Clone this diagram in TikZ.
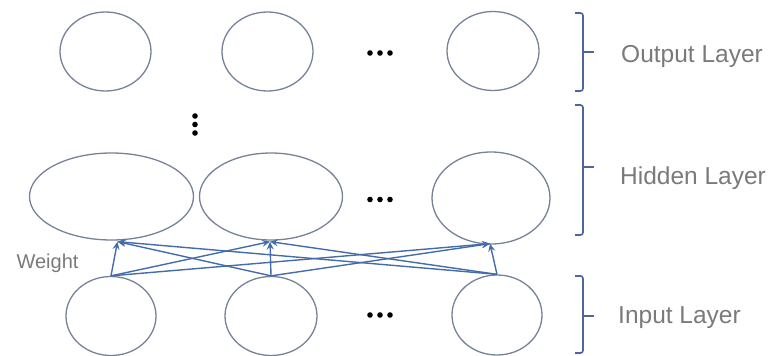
\documentclass[tikz,border=0pt]{standalone}
\usepackage{fontspec}
\setmainfont{Liberation Sans}
\usetikzlibrary{shapes.geometric,arrows.meta,calc}
\definecolor{ringcol}{RGB}{118,130,152}
\definecolor{wirecol}{RGB}{68,108,170}
\definecolor{bracecol}{RGB}{78,102,158}
\definecolor{labelcol}{RGB}{122,122,122}
\tikzset{
  neuron/.style={ellipse,draw=ringcol,line width=1.3pt,inner sep=0pt},
  wire/.style={draw=wirecol,line width=1.4pt,-{Stealth[length=8pt,width=7pt,inset=3pt]}},
  brace/.style={draw=bracecol,line width=1.6pt,rounded corners=2.5pt},
  layername/.style={anchor=base west,text=labelcol,font=\fontsize{24.5}{28}\selectfont,inner sep=0pt},
  dot/.style={fill=black}
}
\begin{document}
\begin{tikzpicture}[x=1pt,y=-1pt]
\useasboundingbox (0,0) rectangle (771,356);

% output layer
\node[neuron,minimum width=91pt,minimum height=79pt] (o1) at (105.5,51.5) {};
\node[neuron,minimum width=91pt,minimum height=79pt] (o2) at (267.5,51.5) {};
\node[neuron,minimum width=92pt,minimum height=79pt] (o3) at (493,51) {};

% hidden layer
\node[neuron,minimum width=164pt,minimum height=87pt] (h1) at (111.5,196.5) {};
\node[neuron,minimum width=143pt,minimum height=87pt] (h2) at (271,196.5) {};
\node[neuron,minimum width=118pt,minimum height=92pt] (h3) at (491,198) {};

% input layer
\node[neuron,minimum width=90pt,minimum height=79pt] (i1) at (111,316) {};
\node[neuron,minimum width=92pt,minimum height=79pt] (i2) at (271,316) {};
\node[neuron,minimum width=90pt,minimum height=80pt] (i3) at (497,315) {};

% arrow targets on the hidden units
\coordinate (t1) at ($(h1.south)+(6,1)$);
\coordinate (t2) at ($(h2.south)+(-1,1)$);
\coordinate (t3) at ($(h3.south)+(-1,-1)$);

% fully connected weights
\foreach \s in {i1,i2,i3}
  \foreach \t in {t1,t2,t3}
    \draw[wire] (\s.north) -- (\t);

% ellipsis dots
\foreach \y in {53,199.5,315}
  \foreach \x in {370,380,390}
    \fill[dot] (\x,\y) circle (2.8pt);
\foreach \y in {116,124.5,133}
  \fill[dot] (195,\y) circle (2.8pt);

% layer brackets
\draw[brace] (575,13) -- (583,13) -- (583,91) -- (575,91);
\draw[bracecol,line width=1.6pt] (583,52) -- (594,52);
\draw[brace] (575,105) -- (583,105) -- (583,235) -- (575,235);
\draw[bracecol,line width=1.6pt] (583,167) -- (594,167);
\draw[brace] (575,276) -- (583,276) -- (583,353) -- (575,353);
\draw[bracecol,line width=1.6pt] (583,316) -- (594,316);

% labels
\node[layername] (lo) at (621,62) {Output Layer};
\node[layername] (lh) at (620,184) {Hidden Layer};
\node[layername] (li) at (618,323) {Input Layer};
\node[anchor=base,text=labelcol,font=\fontsize{20}{23}\selectfont,inner sep=0pt] (lw) at (47.5,268.5) {Weight};
\end{tikzpicture}
\end{document}
